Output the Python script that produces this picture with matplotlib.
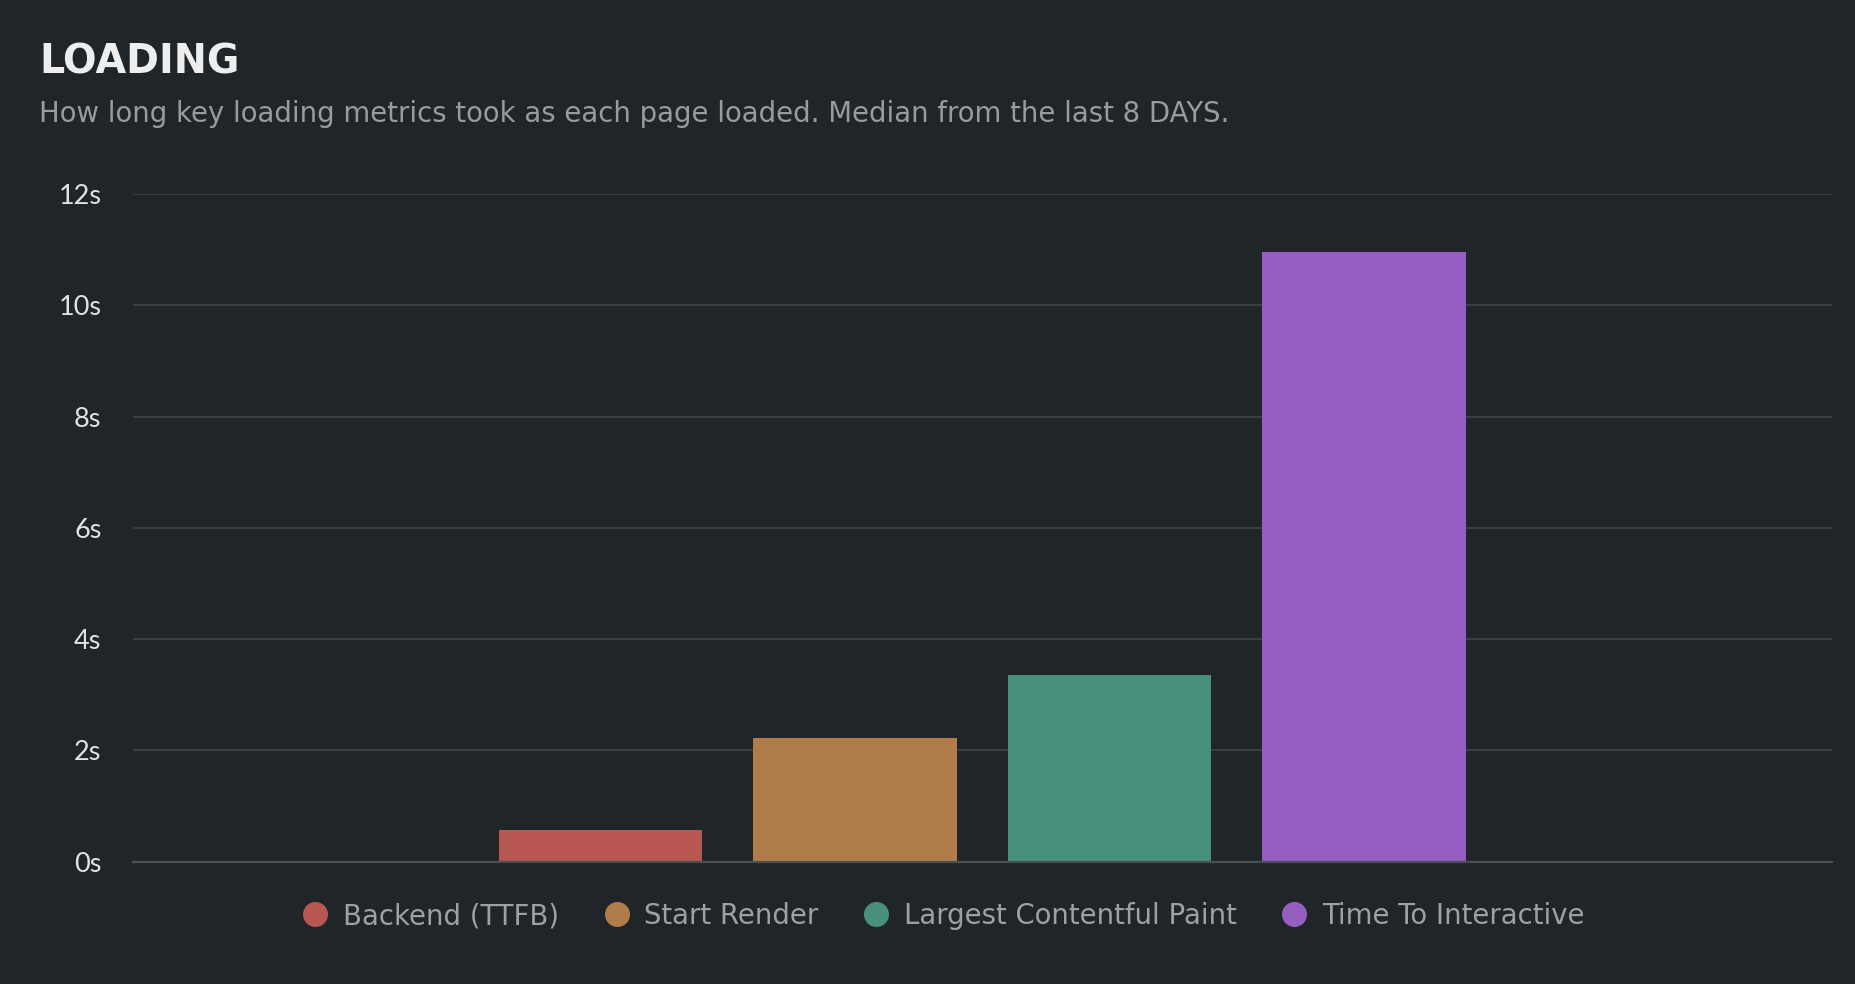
import numpy as np
import matplotlib
matplotlib.use("Agg")
import matplotlib.pyplot as plt
from matplotlib.lines import Line2D

# data
metrics = ["Backend (TTFB)", "Start Render", "Largest Contentful Paint", "Time To Interactive"]
seconds = [0.57, 2.23, 3.36, 10.96]
colors = ["#b85752", "#b07d4a", "#48907c", "#975ec2"]
yticks = [0, 2, 4, 6, 8, 10, 12]

bg = "#1f2529"
plt.rcParams["font.family"] = ["Lato", "DejaVu Sans"]
wide = ["DejaVu Sans"]

fig = plt.figure(figsize=(18.56, 9.84), dpi=100, facecolor=bg)
ax = fig.add_axes([0.0715, 0.1243, 0.9155, 0.6784])
ax.set_facecolor(bg)

x = np.arange(len(metrics))
ax.bar(x, seconds, width=0.8, color=colors, zorder=3)

ax.set_xlim(-1.84, 4.84)
ax.set_ylim(0, 12)
ax.set_yticks(yticks)
ax.set_yticklabels([f"{v}s" for v in yticks])
ax.set_xticks([])
ax.tick_params(axis="y", length=0, pad=22.5, labelsize=19.5, labelcolor="#e2e2e2")
ax.grid(axis="y", color="#3b4146", linewidth=1.3, zorder=0)
for s in ["top", "right", "left"]:
    ax.spines[s].set_visible(False)
ax.spines["bottom"].set_color("#4a5055")
ax.spines["bottom"].set_linewidth(1.6)
ax.spines["bottom"].set_zorder(4)

fig.text(0.021, 0.925, "LOADING", fontsize=28.5, fontweight="bold", color="#eeeeee",
         family=wide)
fig.text(0.021, 0.876, "How long key loading metrics took as each page loaded. Median from the last 8 DAYS.",
         fontsize=19.8, color="#9b9b9b", family=wide)

handles = [Line2D([], [], marker="o", linestyle="", markersize=17, markerfacecolor=c,
                  markeredgecolor=c) for c in colors]
leg = fig.legend(handles, metrics, loc="center", bbox_to_anchor=(0.508, 0.069), ncol=4,
                 frameon=False, prop={"family": wide, "size": 19.8}, handletextpad=0.5,
                 columnspacing=1.6, handlelength=1.0)
for t in leg.get_texts():
    t.set_color("#a0a0a0")

fig.savefig("out.png", dpi=100, facecolor=bg)
